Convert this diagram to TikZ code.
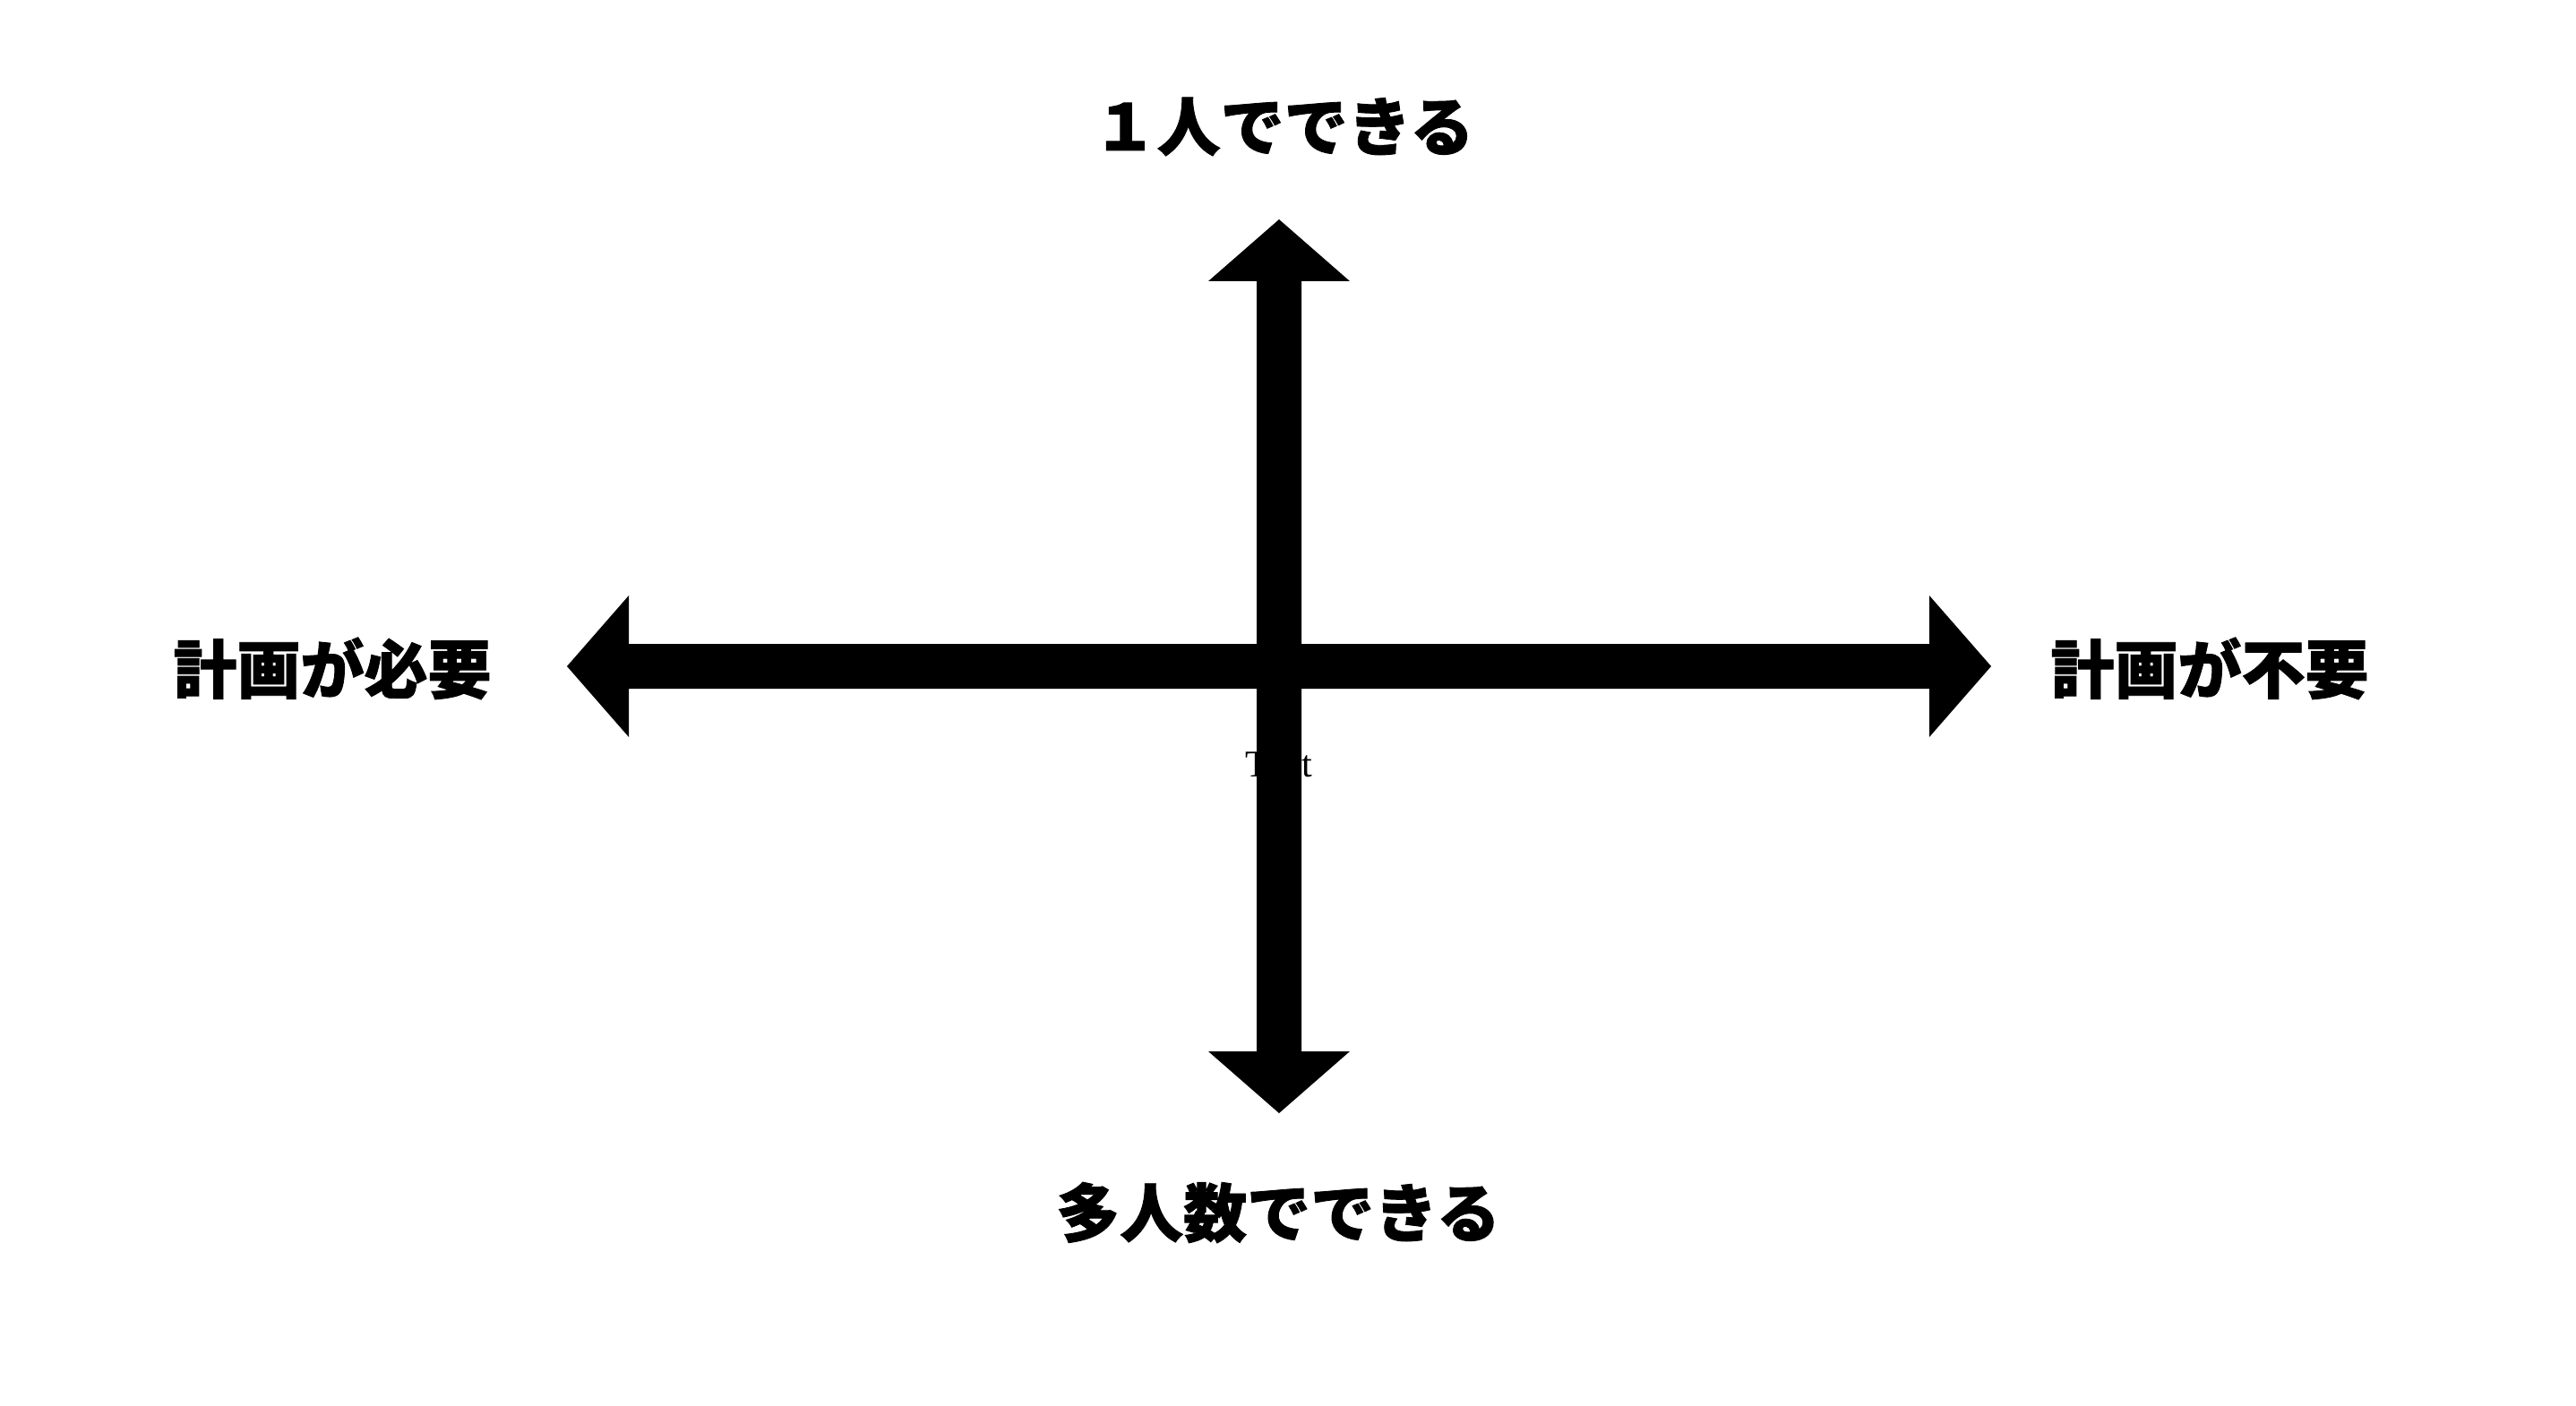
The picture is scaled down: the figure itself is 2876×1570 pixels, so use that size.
\documentclass[tikz,border=0pt]{standalone}
\usepackage{fontspec}
\setmainfont{Liberation Serif}
\newfontfamily\cjk[BoldFeatures={FakeBold=1.2}]{Noto Sans CJK JP}
\tikzset{
  lab/.style={font=\cjk\bfseries\fontsize{20.2}{24}\selectfont, inner sep=0pt, anchor=base},
  small/.style={font=\fontsize{12}{14}\selectfont, inner sep=0pt, anchor=base},
  blockarrow/.style={fill=black, draw=none}
}
\begin{document}
\begin{tikzpicture}[x=0.01cm,y=-0.01cm]
\useasboundingbox (0,0) rectangle (2876,1570);
\fill[white] (0,0) rectangle (2876,1570);
% labels
\node[lab] (one) at (1433,168) {１人でできる};
\node[lab] (many) at (1427,1381) {多人数でできる};
\node[lab] (need) at (371,774) {計画が必要};
\node[lab] (noneed) at (2467,774) {計画が不要};
\node[small] (txt) at (1428,867) {Text};
% centre
\coordinate (c) at (1428,744);
% vertical double arrow
\fill[blockarrow] (1428,245) -- (1507,314) -- (1453,314) -- (1453,1174) -- (1507,1174)
  -- (1428,1243) -- (1349,1174) -- (1403,1174) -- (1403,314) -- (1349,314) -- cycle;
% horizontal double arrow
\fill[blockarrow] (633,744) -- (702,665) -- (702,719) -- (2154,719) -- (2154,665)
  -- (2223,744) -- (2154,823) -- (2154,769) -- (702,769) -- (702,823) -- cycle;
\end{tikzpicture}
\end{document}
